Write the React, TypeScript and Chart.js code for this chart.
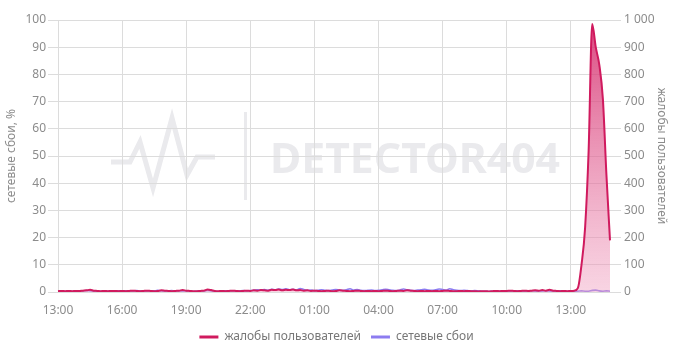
import React, { useEffect, useRef } from 'react';
import { Chart, registerables } from 'chart.js';

Chart.register(...registerables);

// 10-minute samples from 13:00 (day 1) to 14:50 (day 2)
const startHour = 13;
const stepMinutes = 10;

const complaints: number[] = [
  3, 4, 3, 4, 3, 4,
  4, 5, 6, 8, 5, 4,
  3, 4, 3, 4, 4, 3,
  4, 3, 4, 5, 4, 3,
  4, 5, 4, 3, 4, 6,
  5, 4, 3, 4, 5, 7,
  5, 4, 3, 3, 4, 5,
  9, 7, 4, 3, 4, 3,
  4, 5, 4, 3, 4, 5,
  4, 6, 5, 7, 6, 5,
  8, 7, 9, 6, 8, 7,
  9, 6, 7, 5, 6, 4,
  5, 4, 3, 4, 5, 3,
  4, 6, 5, 4, 3, 4,
  5, 4, 3, 4, 3, 4,
  3, 4, 5, 4, 3, 4,
  5, 4, 6, 5, 4, 3,
  4, 3, 4, 3, 4, 3,
  4, 5, 4, 3, 3, 4,
  3, 4, 3, 3, 2, 3,
  3, 2, 3, 4, 3, 4,
  4, 5, 4, 3, 4, 5,
  4, 5, 6, 5, 7, 5,
  8, 5, 4, 3, 4, 3,
  4, 5, 15, 100, 235, 520,
  985, 900, 835, 710, 430, 190,
];

const networkFailures: number[] = [
  0.2, 0.3, 0.2, 0.3, 0.2, 0.3,
  0.3, 0.4, 0.5, 0.4, 0.3, 0.3,
  0.2, 0.3, 0.3, 0.2, 0.3, 0.4,
  0.3, 0.4, 0.3, 0.3, 0.5, 0.4,
  0.3, 0.4, 0.3, 0.4, 0.6, 0.4,
  0.3, 0.4, 0.5, 0.3, 0.4, 0.3,
  0.4, 0.3, 0.2, 0.3, 0.4, 0.3,
  0.6, 0.4, 0.3, 0.2, 0.3, 0.4,
  0.3, 0.4, 0.3, 0.4, 0.5, 0.4,
  0.5, 0.6, 0.8, 0.7, 0.9, 0.6,
  1.0, 0.8, 1.1, 0.9, 1.2, 0.8,
  1.0, 0.7, 1.3, 0.9, 0.6, 0.7,
  0.5, 0.6, 0.8, 0.6, 0.5, 0.7,
  0.9, 0.7, 0.6, 0.8, 1.2, 0.7,
  0.9, 0.6, 0.5, 0.6, 0.7, 0.5,
  0.6, 0.8, 1.0, 0.8, 0.6, 0.5,
  0.7, 1.1, 0.8, 0.6, 0.5, 0.7,
  0.8, 1.0, 0.7, 0.6, 0.8, 1.1,
  0.9, 0.7, 1.2, 0.8, 0.6, 0.5,
  0.6, 0.5, 0.4, 0.5, 0.4, 0.3,
  0.3, 0.2, 0.3, 0.2, 0.3, 0.2,
  0.3, 0.2, 0.3, 0.4, 0.3, 0.2,
  0.3, 0.4, 0.3, 0.2, 0.3, 0.4,
  0.3, 0.2, 0.3, 0.4, 0.3, 0.2,
  0.3, 0.2, 0.3, 0.4, 0.3, 0.3,
  0.6, 0.7, 0.4, 0.3, 0.4, 0.3,
];

const xTickLabels: string[] = ['13:00', '16:00', '19:00', '22:00', '01:00', '04:00', '07:00', '10:00', '13:00'];
const xTickEvery = 18; // every 3 hours

const seriesNames: string[] = ['жалобы пользователей', 'сетевые сбои'];
const leftTitle = 'сетевые сбои, %';
const rightTitle = 'жалобы пользователей';
const watermarkText = 'DETECTOR404';

const timeLabels: string[] = complaints.map((_, i) => {
  const total = startHour * 60 + i * stepMinutes;
  const h = Math.floor(total / 60) % 24;
  const m = total % 60;
  return `${String(h).padStart(2, '0')}:${String(m).padStart(2, '0')}`;
});

const FONT = "'Noto Sans', sans-serif";
const TICK_COLOR = '#8c8c8c';
const GRID_COLOR = '#dcdcdc';
const RED = '#d01a5e';
const PURPLE = '#8d7cf0';

const watermarkPlugin = {
  id: 'watermark',
  beforeDraw(chart: any) {
    const ctx = chart.ctx as CanvasRenderingContext2D;
    ctx.save();
    const col = '#eaeaed';
    ctx.strokeStyle = col;
    ctx.lineWidth = 5;
    ctx.lineJoin = 'miter';
    ctx.beginPath();
    const pts = [[111, 162], [130, 162], [140, 142], [153, 188], [172, 118], [187, 175], [197, 157], [215, 157]];
    pts.forEach(([x, y], i) => (i === 0 ? ctx.moveTo(x, y) : ctx.lineTo(x, y)));
    ctx.stroke();
    ctx.fillStyle = col;
    ctx.fillRect(244, 112, 3, 88);
    ctx.font = `bold 41px ${FONT}`;
    ctx.textBaseline = 'alphabetic';
    const w = ctx.measureText(watermarkText).width;
    ctx.translate(270, 173);
    ctx.scale(290 / w, 1);
    ctx.fillText(watermarkText, 0, 0);
    ctx.restore();
  },
};

export default function App() {
  const ref = useRef<HTMLCanvasElement | null>(null);

  useEffect(() => {
    if (!ref.current) return;
    const chart = new Chart(ref.current, {
      type: 'line',
      data: {
        labels: timeLabels,
        datasets: [
          {
            label: seriesNames[0],
            data: complaints,
            yAxisID: 'yRight',
            borderColor: RED,
            borderWidth: 2,
            pointRadius: 0,
            tension: 0.25,
            cubicInterpolationMode: 'monotone',
            fill: 'origin',
            backgroundColor: (context: any) => {
              const c = context.chart;
              const area = c.chartArea;
              if (!area) return 'rgba(214,58,116,0.5)';
              const g = c.ctx.createLinearGradient(0, area.top, 0, area.bottom);
              g.addColorStop(0, 'rgba(212,40,105,0.85)');
              g.addColorStop(1, 'rgba(240,160,192,0.45)');
              return g;
            },
          },
          {
            label: seriesNames[1],
            data: networkFailures,
            yAxisID: 'yLeft',
            borderColor: PURPLE,
            borderWidth: 1.6,
            pointRadius: 0,
            tension: 0.3,
            cubicInterpolationMode: 'monotone',
            fill: false,
          },
        ],
      },
      options: {
        animation: false,
        responsive: false,
        maintainAspectRatio: false,
        layout: { padding: { top: 20, bottom: 0, left: 0, right: 0 } },
        plugins: {
          tooltip: { enabled: false },
          legend: {
            position: 'bottom',
            labels: {
              font: { family: FONT, size: 12 },
              color: '#777',
              boxWidth: 19,
              boxHeight: 3,
              padding: 10,
              generateLabels: (chart: any) =>
                chart.data.datasets.map((ds: any, i: number) => ({
                  text: ds.label,
                  fillStyle: ds.borderColor,
                  strokeStyle: ds.borderColor,
                  lineWidth: 0,
                  hidden: false,
                  datasetIndex: i,
                  fontColor: '#777',
                })),
            },
          },
        },
        scales: {
          x: {
            type: 'category',
            offset: false,
            grid: { color: GRID_COLOR, drawTicks: false },
            border: { display: false },
            ticks: {
              autoSkip: false,
              maxRotation: 0,
              padding: 11,
              color: TICK_COLOR,
              font: { family: FONT, size: 12 },
              callback: (_v: any, index: number) =>
                index % xTickEvery === 0 ? xTickLabels[index / xTickEvery] : null,
            },
            afterFit: (s: any) => { s.height = 29; },
          },
          yLeft: {
            type: 'linear',
            position: 'left',
            min: 0,
            max: 100,
            grid: { color: GRID_COLOR, tickLength: 10 },
            border: { display: false },
            ticks: {
              stepSize: 10,
              padding: 2,
              color: TICK_COLOR,
              font: { family: FONT, size: 12 },
            },
            title: {
              display: true,
              text: leftTitle,
              color: TICK_COLOR,
              font: { family: FONT, size: 12 },
            },
            afterFit: (s: any) => { s.width = 58; },
          },
          yRight: {
            type: 'linear',
            position: 'right',
            min: 0,
            max: 1000,
            grid: { color: GRID_COLOR, drawOnChartArea: false, tickLength: 11 },
            border: { display: false },
            ticks: {
              stepSize: 100,
              padding: 3,
              color: TICK_COLOR,
              font: { family: FONT, size: 12 },
              callback: (v: any) => String(v).replace(/\B(?=(\d{3})+(?!\d))/g, ' '),
            },
            title: {
              display: true,
              text: rightTitle,
              color: TICK_COLOR,
              font: { family: FONT, size: 12 },
            },
            afterFit: (s: any) => { s.width = 63; },
          },
        },
      },
      plugins: [watermarkPlugin],
    } as any);
    return () => chart.destroy();
  }, []);

  return (
    <div style={{ position: 'absolute', left: 0, top: 0, width: 673, height: 353, background: '#fff' }}>
      <canvas ref={ref} width={673} height={353} style={{ display: 'block' }} />
    </div>
  );
}
